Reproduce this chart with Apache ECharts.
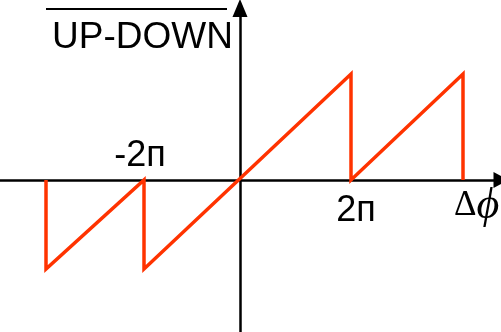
<!DOCTYPE html>
<html>
<head>
<meta charset="utf-8">
<script src="https://cdn.jsdelivr.net/npm/echarts@6/dist/echarts.min.js"></script>
<style>
  html, body { margin: 0; padding: 0; background: #fff; }
  #main { width: 501px; height: 332px; }
</style>
</head>
<body>
<div id="main"></div>
<script>
// sawtooth (origin where the axes cross, y up)
var phase = [-194, -194, -96, -96, 111, 111, 223, 223];
var output = [0, -89, 0, -89, 106, 0, 106, 0];
var xLabels = ['-2п', '2п'];
var yName = 'UP-DOWN';

var chartDom = document.getElementById('main');
var myChart = echarts.init(chartDom);
var option;

var points = phase.map(function (x, i) { return [x, output[i]]; });

option = {
	animation: false,
	grid: {
		left: 0,
		right: 0,
		top: 8,
		bottom: 0
	},
	xAxis: {
		type: 'value',
		min: -240,
		max: 261,
		axisLine: {
			onZero: true,
			symbol: ['none', 'triangle'],
			symbolSize: [16, 15],
			lineStyle: { color: '#000', width: 2.5 }
		},
		axisTick: { show: false },
		axisLabel: { show: false },
		splitLine: { show: false }
	},
	yAxis: {
		type: 'value',
		min: -152,
		max: 172,
		axisLine: {
			onZero: true,
			symbol: ['none', 'triangle'],
			symbolSize: [15, 18],
			lineStyle: { color: '#000', width: 2.5 }
		},
		axisTick: { show: false },
		axisLabel: { show: false },
		splitLine: { show: false }
	},
	graphic: [
		{
			type: 'line',
			shape: { x1: 46, y1: 9, x2: 227, y2: 9 },
			style: { stroke: '#000', lineWidth: 2 }
		},
		{
			type: 'text',
			x: 52,
			y: 38,
			style: {
				text: yName,
				font: '37px "Liberation Sans", Arial, sans-serif',
				fill: '#000',
				verticalAlign: 'middle'
			}
		},
		{
			type: 'text',
			x: 140,
			y: 156,
			style: {
				text: xLabels[0],
				font: '36px "Liberation Sans", Arial, sans-serif',
				fill: '#000',
				align: 'center',
				verticalAlign: 'middle'
			}
		},
		{
			type: 'text',
			x: 356,
			y: 211,
			style: {
				text: xLabels[1],
				font: '36px "Liberation Sans", Arial, sans-serif',
				fill: '#000',
				align: 'center',
				verticalAlign: 'middle'
			}
		},
		{
			type: 'text',
			x: 454,
			y: 206,
			style: {
				text: '{a|Δ}{b|ϕ}',
				verticalAlign: 'middle',
				rich: {
					a: { fontFamily: '"Liberation Serif", "DejaVu Serif", serif', fontSize: 35, color: '#000' },
					b: { fontFamily: '"Liberation Serif", "DejaVu Serif", serif', fontStyle: 'italic', fontSize: 44, color: '#000' }
				}
			}
		}
	],
	series: [
		{
			type: 'line',
			data: points,
			showSymbol: false,
			silent: true,
			lineStyle: { color: '#ff3300', width: 3.5, join: 'miter' },
			itemStyle: { color: '#ff3300' }
		}
	]
};

option && myChart.setOption(option);
</script>
</body>
</html>
